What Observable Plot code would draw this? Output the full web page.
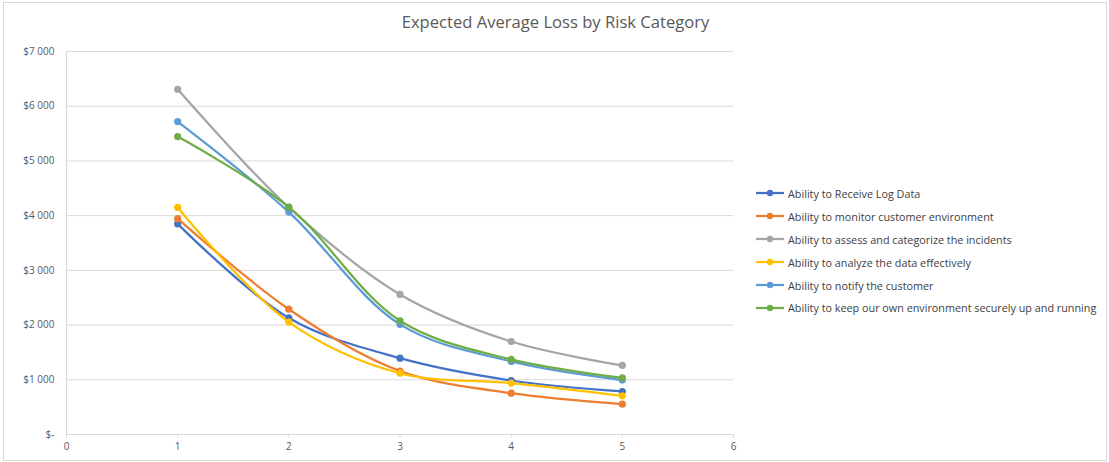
<!DOCTYPE html>
<html>
<head>
<meta charset="utf-8">
<script src="https://cdn.jsdelivr.net/npm/d3@7"></script>
<script src="https://cdn.jsdelivr.net/npm/@observablehq/plot@0.6"></script>
<style>
  html, body { margin: 0; padding: 0; background: #fff; }
  #chart {
    position: relative; width: 1109px; height: 462px; overflow: hidden;
    font-family: "Open Sans", Lato, sans-serif; color: #595959;
  }
  #frame {
    position: absolute; left: 3px; top: 2px; right: 2px; bottom: 1px;
    border: 1px solid #d9d9d9; pointer-events: none;
  }
  #title {
    height: 40px; line-height: 44px; text-align: center;
    font-size: 16.6px; color: #595959; padding-left: 2px;
  }
  #plot svg { display: block; }
  #legend {
    position: absolute; left: 755px; top: 182px;
    font-size: 10.8px; color: #404040;
  }
  .item { display: flex; align-items: center; height: 22.9px; white-space: nowrap; }
  .item svg { margin-right: 3px; }
</style>
</head>
<body>
<div id="chart">
  <div id="title">Expected Average Loss by Risk Category</div>
  <div id="plot"></div>
  <div id="legend"></div>
  <div id="frame"></div>
</div>
<script>
// Risk categories (series), in drawing order
const categories = [
  "Ability to Receive Log Data",
  "Ability to monitor customer environment",
  "Ability to assess and categorize the incidents",
  "Ability to analyze the data effectively",
  "Ability to notify the customer",
  "Ability to keep our own environment securely up and running"
];
const colors = ["#4472C4", "#ED7D31", "#A5A5A5", "#FFC000", "#5B9BD5", "#70AD47"];

// x positions of the observations
const steps = [1, 2, 3, 4, 5];

// expected average loss per category at each step
const receiveLog   = [3850, 2130, 1395, 987, 786];
const monitorEnv   = [3945, 2290, 1160, 755, 555];
const assessIncid  = [6310, 4150, 2560, 1700, 1262];
const analyzeData  = [4150, 2055, 1120, 940, 707];
const notifyCust   = [5720, 4065, 2012, 1335, 995];
const keepEnvUp    = [5445, 4155, 2078, 1372, 1036];
const seriesValues = [receiveLog, monitorEnv, assessIncid, analyzeData, notifyCust, keepEnvUp];

// axis ticks
const xTicks = [0, 1, 2, 3, 4, 5, 6];
const yTicks = [0, 1000, 2000, 3000, 4000, 5000, 6000, 7000];

const rows = [];
categories.forEach((c, i) => {
  steps.forEach((s, j) => rows.push({category: c, step: s, loss: seriesValues[i][j]}));
});

const fmt = v => v === 0 ? "$-" : "$" + d3.format(",")(v).replace(/,/g, " ");

const seriesMarks = categories.flatMap((c, i) => {
  const data = rows.filter(r => r.category === c);
  return [
    Plot.line(data, {x: "step", y: "loss", stroke: colors[i], strokeWidth: 2.25, curve: "catmull-rom"}),
    Plot.dot(data, {x: "step", y: "loss", fill: colors[i], r: 3.6})
  ];
});

const chart = Plot.plot({
  width: 1109,
  height: 422,
  marginLeft: 66,
  marginRight: 376,
  marginTop: 11,
  marginBottom: 28,
  style: {fontFamily: "'Open Sans', Lato, sans-serif", fontSize: "10px", color: "#595959", background: "#fff"},
  x: {domain: [0, 6]},
  y: {domain: [0, 7000]},
  marks: [
    Plot.gridY(yTicks.filter(t => t > 0), {stroke: "#d9d9d9", strokeOpacity: 1, strokeWidth: 1}),
    Plot.ruleX([0], {stroke: "#d9d9d9", strokeWidth: 1.2}),
    Plot.ruleY([0], {stroke: "#d9d9d9", strokeWidth: 1.2}),
    Plot.axisY(yTicks, {tickSize: 0, tickPadding: 12, tickFormat: fmt, label: null, fill: "#595959"}),
    Plot.axisX(xTicks, {tickSize: 4, stroke: "#d9d9d9", tickPadding: 4, label: null, fill: "#595959"}),
    ...seriesMarks
  ]
});
document.getElementById("plot").appendChild(chart);

// legend
const legend = d3.select("#legend");
categories.forEach((c, i) => {
  const item = legend.append("div").attr("class", "item");
  const sw = item.append("svg").attr("width", 30).attr("height", 10);
  sw.append("line").attr("x1", 1).attr("x2", 29).attr("y1", 5).attr("y2", 5)
    .attr("stroke", colors[i]).attr("stroke-width", 2.25);
  sw.append("circle").attr("cx", 15).attr("cy", 5).attr("r", 3.2).attr("fill", colors[i]);
  item.append("span").text(c);
});
</script>
</body>
</html>
